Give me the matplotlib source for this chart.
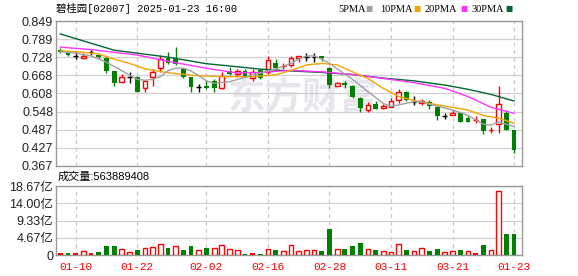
import matplotlib
matplotlib.use("Agg")
import matplotlib.pyplot as plt
import numpy as np

# K线数据 (开, 高, 低, 收)
opens = [0.754, 0.745, 0.733, 0.725, 0.745, 0.735, 0.725, 0.683, 0.645, 0.662,
         0.664, 0.625, 0.664, 0.694, 0.725, 0.725, 0.690, 0.662, 0.629, 0.633,
         0.651, 0.625, 0.683, 0.672, 0.683, 0.660, 0.686, 0.680, 0.710, 0.699,
         0.703, 0.725, 0.728, 0.728, 0.733, 0.692, 0.634, 0.642, 0.634, 0.594,
         0.553, 0.573, 0.559, 0.564, 0.586, 0.614, 0.581, 0.575, 0.581, 0.562,
         0.534, 0.537, 0.544, 0.525, 0.521, 0.522, 0.487, 0.507, 0.544, 0.487]
highs = [0.758, 0.748, 0.749, 0.742, 0.751, 0.738, 0.730, 0.683, 0.672, 0.680,
         0.666, 0.654, 0.690, 0.736, 0.745, 0.763, 0.693, 0.664, 0.641, 0.650,
         0.655, 0.680, 0.695, 0.688, 0.688, 0.690, 0.690, 0.734, 0.722, 0.709,
         0.731, 0.733, 0.741, 0.741, 0.733, 0.695, 0.645, 0.650, 0.636, 0.596,
         0.580, 0.583, 0.574, 0.592, 0.622, 0.615, 0.600, 0.591, 0.585, 0.563,
         0.544, 0.553, 0.544, 0.533, 0.533, 0.522, 0.498, 0.633, 0.552, 0.487]
lows = [0.743, 0.734, 0.723, 0.724, 0.737, 0.722, 0.676, 0.634, 0.645, 0.644,
        0.612, 0.612, 0.634, 0.680, 0.705, 0.703, 0.660, 0.614, 0.614, 0.622,
        0.614, 0.623, 0.668, 0.663, 0.662, 0.650, 0.655, 0.672, 0.688, 0.688,
        0.697, 0.712, 0.716, 0.714, 0.716, 0.627, 0.632, 0.625, 0.594, 0.548,
        0.545, 0.555, 0.556, 0.562, 0.575, 0.584, 0.570, 0.570, 0.555, 0.521,
        0.522, 0.537, 0.512, 0.514, 0.511, 0.475, 0.476, 0.478, 0.487, 0.411]
closes = [0.745, 0.737, 0.733, 0.733, 0.745, 0.730, 0.684, 0.644, 0.664, 0.662,
          0.614, 0.651, 0.680, 0.723, 0.710, 0.707, 0.664, 0.631, 0.629, 0.625,
          0.625, 0.667, 0.672, 0.683, 0.664, 0.680, 0.660, 0.719, 0.694, 0.699,
          0.725, 0.732, 0.728, 0.728, 0.725, 0.636, 0.642, 0.636, 0.596, 0.559,
          0.570, 0.557, 0.566, 0.583, 0.612, 0.586, 0.581, 0.583, 0.566, 0.534,
          0.534, 0.544, 0.514, 0.514, 0.521, 0.484, 0.487, 0.573, 0.487, 0.420]
# u=阳线(空心红) d=阴线(绿) x=黑十字 r=红十字
candle_kind = ("ddxuxdddux" "duuuddddxd" "dududududr"
               "uuxxdduddd" "uduuudxudd" "xuddrdrudd")

# 成交量 (亿), f=红色实心 u=红色空心 d=绿色
volumes = [0.5, 0.5, 0.5, 1.1, 0.5, 0.9, 2.5, 2.5, 1.5, 0.7,
           1.3, 1.8, 2.2, 3.1, 1.9, 2.3, 1.3, 2.4, 1.3, 1.9,
           1.8, 2.6, 1.5, 1.3, 0.3, 0.5, 0.3, 1.5, 1.3, 1.1,
           2.6, 1.0, 1.3, 1.3, 1.1, 7.0, 1.5, 1.6, 2.4, 3.2,
           1.5, 1.3, 1.1, 0.8, 3.1, 1.3, 1.1, 1.8, 1.1, 1.5,
           0.7, 1.0, 1.3, 1.0, 0.5, 2.7, 1.3, 17.2, 5.64, 5.64]
vol_kind = ("fdfufddduu" "duuududdud" "uuuudfdudu"
            "uuuudduddd" "uduuuduudd" "uudufduudd")

# 均线 (取样点)
ma5_idx = [0, 2, 4, 6, 8, 10, 11, 12, 13, 14, 15, 16, 17, 18, 19, 20, 22, 24, 26, 28,
           30, 31, 32, 33, 34, 35, 36, 38, 40, 42, 43, 44, 46, 47, 48, 50, 52, 53, 55,
           56, 57, 59]
ma5_val = [0.747, 0.742, 0.733, 0.712, 0.684, 0.655, 0.652, 0.655, 0.664, 0.684,
           0.692, 0.692, 0.683, 0.668, 0.650, 0.642, 0.647, 0.662, 0.676, 0.690,
           0.708, 0.722, 0.733, 0.733, 0.722, 0.708, 0.690, 0.655, 0.614, 0.575,
           0.565, 0.570, 0.581, 0.580, 0.572, 0.560, 0.545, 0.535, 0.506, 0.503,
           0.514, 0.498]
ma10_idx = [0, 3, 5, 7, 9, 11, 13, 15, 18, 21, 25, 28, 30, 32, 34, 36, 38, 40, 42,
            44, 46, 48, 50, 53, 55, 57, 59]
ma10_val = [0.750, 0.745, 0.739, 0.722, 0.708, 0.690, 0.681, 0.674, 0.667, 0.664,
            0.664, 0.670, 0.685, 0.703, 0.708, 0.703, 0.680, 0.658, 0.625, 0.598,
            0.585, 0.575, 0.566, 0.553, 0.535, 0.526, 0.509]
ma20_idx = [0, 4, 7, 10, 14, 19, 23, 26, 30, 34, 38, 42, 46, 50, 53, 56, 59]
ma20_val = [0.762, 0.754, 0.745, 0.736, 0.715, 0.692, 0.676, 0.678, 0.685, 0.680,
            0.671, 0.658, 0.644, 0.625, 0.598, 0.562, 0.542]
ma30_idx = [0, 4, 7, 10, 14, 19, 23, 26, 30, 34, 38, 42, 46, 50, 53, 56, 59]
ma30_val = [0.806, 0.775, 0.752, 0.742, 0.729, 0.707, 0.697, 0.689, 0.683, 0.678,
            0.671, 0.659, 0.650, 0.636, 0.622, 0.605, 0.583]

price_ticks = [0.367, 0.427, 0.487, 0.548, 0.608, 0.668, 0.728, 0.789, 0.849]
vol_ticks = [0, 4.67, 9.33, 14.00, 18.67]
vol_tick_labels = ["0", "4.67亿", "9.33亿", "14.00亿", "18.67亿"]
date_pos = [2, 10, 19, 27, 35, 43, 51, 59]
date_labels = ["01-10", "01-22", "02-02", "02-16", "02-28", "03-11", "03-21", "01-23"]

RED = "#ff0000"
GREEN = "#008000"
GRID = "#d0d0d0"
FRAME = "#999999"
CJK = ["Liberation Sans", "Noto Sans CJK SC"]
MONO = ["Liberation Mono", "Noto Sans CJK SC"]

fig = plt.figure(figsize=(5.78, 2.76), dpi=100)
ax = fig.add_axes([56 / 578, 1 - 166 / 276, 466 / 578, 145 / 276])
axv = fig.add_axes([56 / 578, 1 - 255 / 276, 466 / 578, 69 / 276])

n = len(closes)
x = np.arange(n)
o = np.array(opens); c = np.array(closes)
h = np.array(highs); l = np.array(lows)
w = 0.62

for a in (ax, axv):
    a.set_xlim(-0.56, n + 0.03)
    for s in a.spines.values():
        s.set_color(FRAME)
        s.set_linewidth(1)
    a.tick_params(length=0, pad=2)
    for p in date_pos:
        a.axvline(p, color="#c8c8c8", lw=0.9, ls=(0, (3, 3)), zorder=0)

# 价格区
ax.set_ylim(price_ticks[0], price_ticks[-1])
ax.set_yticks(price_ticks)
ax.set_yticklabels([f"{t:.3f}" for t in price_ticks], fontsize=9,
                   family="Liberation Sans", color="#222222")
ax.yaxis.grid(True, color=GRID, lw=0.9, zorder=0)
ax.set_xticks([])

ax.text(0.53, 0.47, "东方财富", transform=ax.transAxes, fontsize=27,
        family="Noto Sans CJK SC", fontweight="bold", color="#e6e6ec",
        ha="center", va="center", zorder=0.5)

for kind, col in (("u", RED), ("d", GREEN), ("x", "black"), ("r", RED)):
    m = np.array([k == kind for k in candle_kind])
    if not m.any():
        continue
    ax.vlines(x[m], l[m], h[m], color=col, lw=1, zorder=2)
    if kind == "u":
        ax.bar(x[m], c[m] - o[m], w, bottom=o[m], facecolor="white",
               edgecolor=col, lw=1, zorder=3)
    elif kind == "d":
        ax.bar(x[m], o[m] - c[m], w, bottom=c[m], color=col, lw=0, zorder=3)
    else:
        ax.hlines(c[m], x[m] - w / 2, x[m] + w / 2, color=col, lw=1, zorder=3)

ax.plot(ma30_idx, ma30_val, color="#006633", lw=1, zorder=4)
ax.plot(ma20_idx, ma20_val, color="#ff33ff", lw=1, zorder=4)
ax.plot(ma10_idx, ma10_val, color="#f5a300", lw=1, zorder=4)
ax.plot(ma5_idx, ma5_val, color="#a0a0a0", lw=1, zorder=4)

# 成交量区
vol = np.array(volumes)
axv.set_ylim(0, vol_ticks[-1])
axv.set_yticks(vol_ticks)
axv.set_yticklabels(vol_tick_labels, fontsize=9, family=CJK, color="#222222")
axv.yaxis.grid(True, color=GRID, lw=0.9, zorder=0)
for kind in "ufd":
    m = np.array([k == kind for k in vol_kind])
    if kind == "u":
        axv.bar(x[m], vol[m], w, facecolor="white", edgecolor=RED, lw=1, zorder=3)
    elif kind == "f":
        axv.bar(x[m], vol[m], w, color=RED, lw=0, zorder=3)
    else:
        axv.bar(x[m], vol[m], w, color=GREEN, lw=0, zorder=3)
axv.set_xticks(date_pos)
axv.set_xticklabels(date_labels, fontsize=8, family="Liberation Mono", color=RED)
axv.tick_params(axis="x", pad=5)

# 标题与图例
fig.text(56 / 578, 1 - 9 / 276, "碧桂园[02007] 2025-01-23 16:00", fontsize=7.5,
         family=MONO, va="center", ha="left")
fig.text(58 / 578, 1 - 177 / 276, "成交量:563889408", fontsize=8,
         family=CJK, va="center", ha="left")
legend = [("5PMA", "#a0a0a0", 338, 365), ("10PMA", "#f5a300", 380, 413),
          ("20PMA", "#ff33ff", 425, 460), ("30PMA", "#006633", 472, 505)]
for label, col, px, sx in legend:
    fig.text(px / 578, 1 - 9 / 276, label, fontsize=7.5,
             family="Liberation Serif", va="center", ha="left")
    fig.text(sx / 578, 1 - 9 / 276, "■", fontsize=5.5, color=col,
             family="DejaVu Sans", va="center", ha="left")

fig.savefig("out.png", dpi=100)
